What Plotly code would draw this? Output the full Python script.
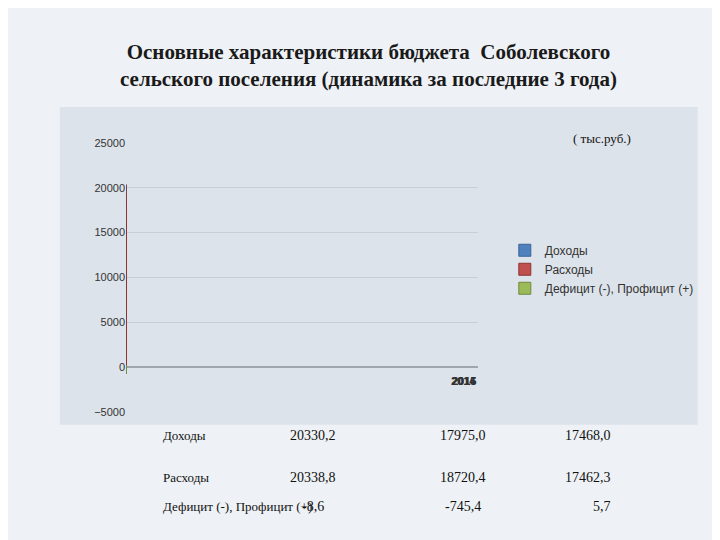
import plotly.graph_objects as go

years = ["2014", "2015", "2016"]
dohody = [20330.2, 17975.0, 17468.0]
rashody = [20338.8, 18720.4, 17462.3]
deficit = [-8.6, -745.4, 5.7]
dohody_txt = ["20330,2", "17975,0", "17468,0"]
rashody_txt = ["20338,8", "18720,4", "17462,3"]
deficit_txt = ["-8,6", "-745,4", "5,7"]

fig = go.Figure()
fig.add_trace(go.Bar(x=years, y=dohody, name="Доходы", marker_color="#4f81bd",
                     marker_line=dict(color="#3a6496", width=1)))
fig.add_trace(go.Bar(x=years, y=rashody, name="Расходы", marker_color="#c0504d",
                     marker_line=dict(color="#8f3533", width=1)))
# tiny values drawn with a minimum visible height like the reference
fig.add_trace(go.Bar(x=years, y=[max(abs(v), 250) * (1 if v >= 0 else -1) for v in deficit],
                     name="Дефицит (-), Профицит (+)", marker_color="#9bbb59",
                     marker_line=dict(color="#71893f", width=1)))

fig.update_layout(
    width=720, height=540, margin=dict(l=0, r=0, t=0, b=0),
    paper_bgcolor="#eef1f5", plot_bgcolor="rgba(0,0,0,0)",
    barmode="group", bargap=0.33, bargroupgap=0.0,
    showlegend=True,
    legend=dict(x=0.69, y=0.58, xanchor="left", yanchor="top", bgcolor="rgba(0,0,0,0)",
                font=dict(family="Liberation Sans", size=12, color="#333"), tracegroupgap=8),
    xaxis=dict(domain=[0.164, 0.653], type="category", showticklabels=False, showline=False),
    yaxis=dict(domain=[0.246, 0.756], range=[-5000, 25000], dtick=5000, tickformat="d",
               showgrid=True, gridcolor="#c8ced6", zeroline=True, zerolinecolor="#a0a6ae",
               tickfont=dict(family="Liberation Sans", size=11, color="#333")),
    font=dict(family="Liberation Serif"),
)

fig.add_shape(type="rect", xref="paper", yref="paper", x0=0.072, x1=0.958, y0=0.222, y1=0.824,
              fillcolor="#dde3ea", line=dict(width=0), layer="below")

for y in years:
    fig.add_annotation(x=y, y=-1500, xref="x", yref="y", text="<b>%s</b>" % y, showarrow=False,
                       font=dict(family="Liberation Sans", size=11, color="#333"))

fig.add_annotation(x=0.5, y=0.955, xref="paper", yref="paper", showarrow=False,
                   text="<b>Основные характеристики бюджета  Соболевского<br>сельского поселения (динамика за последние 3 года)</b>",
                   font=dict(family="Liberation Serif", size=21, color="#1a1a1a"))
fig.add_annotation(x=0.868, y=0.783, xref="paper", yref="paper", showarrow=False,
                   text="( тыс.руб.)", font=dict(family="Liberation Serif", size=13, color="#111"))

rows = [("Доходы", dohody_txt, 0.183), ("Расходы", rashody_txt, 0.104),
        ("Дефицит (-), Профицит (+)", deficit_txt, 0.050)]
for label, vals, yy in rows:
    fig.add_annotation(x=0.213, y=yy, xref="paper", yref="paper", showarrow=False,
                       text=label, font=dict(family="Liberation Serif", size=13, color="#111"))
    for xx, v in zip([0.424, 0.632, 0.84], vals):
        fig.add_annotation(x=xx, y=yy, xref="paper", yref="paper", showarrow=False,
                           text=v, font=dict(family="Liberation Serif", size=14, color="#111"))

fig.write_html("out.html")
